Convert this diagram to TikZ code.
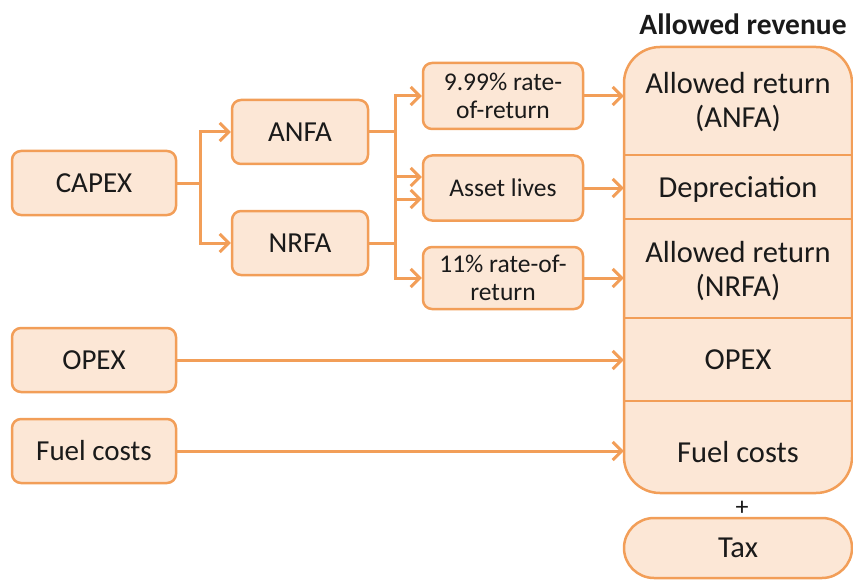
\documentclass[tikz,border=0pt]{standalone}
\usepackage{fontspec}
\setmainfont{Carlito}
\usetikzlibrary{arrows.meta}
\definecolor{edge}{HTML}{F29E58}
\definecolor{fillc}{HTML}{FCE7D6}
\definecolor{ink}{HTML}{1A1A1A}
\begin{document}
\begin{tikzpicture}[x=1pt,y=-1pt,
  box/.style={draw=edge, fill=fillc, line width=2.5pt, rounded corners=9pt,
    text=ink, font=\fontsize{29}{32}\selectfont, align=center, inner sep=0pt},
  small/.style={font=\fontsize{25.5}{28}\selectfont},
  section/.style={text=ink, font=\fontsize{30.5}{34}\selectfont, align=center,
    inner sep=0pt, minimum width=228pt},
  link/.style={draw=edge, line width=3pt,
    -{Straight Barb[length=9pt,width=18pt,line width=3pt]}},
  trunk/.style={draw=edge, line width=3pt},
  divider/.style={draw=edge, line width=1.6pt}
]
\useasboundingbox (0,0) rectangle (853,580);

% left column inputs
\node[box, minimum width=164pt, minimum height=64pt] (capex) at (94,183) {CAPEX};
\node[box, minimum width=164pt, minimum height=64pt] (opex)  at (94,360) {OPEX};
\node[box, minimum width=164pt, minimum height=64pt] (fuel)  at (94,451) {Fuel costs};

% asset classes
\node[box, minimum width=136pt, minimum height=64pt] (anfa) at (300,132) {ANFA};
\node[box, minimum width=136pt, minimum height=64pt] (nrfa) at (300,243) {NRFA};

% parameters
\node[box, small, minimum width=160pt, minimum height=66pt] (r999) at (503,96)  {9.99\% rate-\\of-return};
\node[box, small, minimum width=160pt, minimum height=65pt] (life) at (503,188) {Asset lives};
\node[box, small, minimum width=160pt, minimum height=62pt] (r11)  at (503,278) {11\% rate-of-\\return};

% allowed revenue block
\coordinate (revNW) at (624,47);
\coordinate (revSE) at (852,493);
\fill[fillc] (revNW) [rounded corners=36pt] rectangle (revSE);
\draw[divider] (624,155) -- (852,155);
\draw[divider] (624,219) -- (852,219);
\draw[divider] (624,318) -- (852,318);
\draw[divider] (624,401) -- (852,401);
\draw[edge, line width=2.5pt] (revNW) [rounded corners=36pt] rectangle (revSE);

\node[font=\bfseries\fontsize{29.5}{33}\selectfont, text=ink] (revtitle) at (743,24) {Allowed revenue};

\node[section, minimum height=108pt] (s1) at (738,102) {Allowed return\\(ANFA)};
\node[section, minimum height=64pt]  (s2) at (738,189) {Depreciation};
\node[section, minimum height=99pt]  (s3) at (738,271) {Allowed return\\(NRFA)};
\node[section, minimum height=83pt]  (s4) at (738,360) {OPEX};
\node[section, minimum height=92pt]  (s5) at (738,452) {Fuel costs};

\node[text=ink, font=\fontsize{26}{30}\selectfont] (plus) at (742,508) {+};
\node[box, font=\fontsize{30.5}{34}\selectfont, rounded corners=30pt,
  minimum width=228pt, minimum height=60pt] (tax) at (738,548) {Tax};

% CAPEX splits into the two asset classes
\coordinate (capexfork) at (200,183);
\draw[trunk] (capex.east) -- (capexfork);
\draw[link] (capexfork) |- (anfa.west);
\draw[link] (capexfork) |- (nrfa.west);

% ANFA feeds its return rate and asset lives
\coordinate (anfafork) at (395,132);
\draw[trunk] (anfa.east) -- (anfafork);
\draw[link] (anfafork) |- (r999.west);
\draw[link] (anfafork) |- ([yshift=-11pt]life.west);

% NRFA feeds asset lives and its return rate
\coordinate (nrfafork) at (395,243);
\draw[trunk] (nrfa.east) -- (nrfafork);
\draw[link] (nrfafork) |- ([yshift=11pt]life.west);
\draw[link] (nrfafork) |- (r11.west);

% parameters into the revenue block
\draw[link] (r999.east) -- (r999.east -| s1.west);
\draw[link] (life.east) -- (life.east -| s2.west);
\draw[link] (r11.east)  -- (r11.east -| s3.west);
\draw[link] (opex.east) -- (opex.east -| s4.west);
\draw[link] (fuel.east) -- (fuel.east -| s5.west);
\end{tikzpicture}
\end{document}
